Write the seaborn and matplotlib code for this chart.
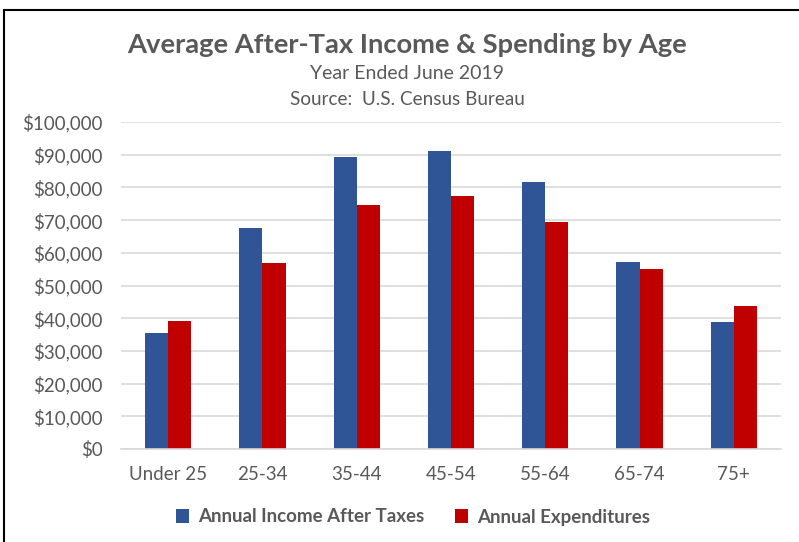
import matplotlib
matplotlib.use("Agg")
import matplotlib.pyplot as plt
import seaborn as sns
import pandas as pd
from matplotlib.ticker import FuncFormatter
from matplotlib.patches import Rectangle

categories = ["Under 25", "25-34", "35-44", "45-54", "55-64", "65-74", "75+"]
income = [35400, 67700, 89300, 91200, 81700, 57300, 38700]
expenditures = [39200, 57000, 74700, 77300, 69300, 54900, 43600]
series_names = ["Annual Income After Taxes", "Annual Expenditures"]

df = pd.DataFrame({
    "Age": categories * 2,
    "Value": income + expenditures,
    "Series": [series_names[0]] * len(categories) + [series_names[1]] * len(categories),
})

sns.set_theme(style="white")
plt.rcParams['font.family'] = ['Lato', 'DejaVu Sans']
gray = "#595959"

fig = plt.figure(figsize=(7.99, 5.42), dpi=100)
ax = fig.add_axes([121/799, 1 - 449/542, (781-121)/799, (449-122)/542])

sns.barplot(data=df, x="Age", y="Value", hue="Series", order=categories,
            hue_order=series_names, palette=["#2F5597", "#C00000"],
            width=0.49, gap=0, ax=ax, legend=True, saturation=1, linewidth=0)

ax.set_ylim(0, 100000)
ax.set_yticks(range(0, 100001, 10000))
ax.yaxis.set_major_formatter(FuncFormatter(lambda v, p: f"${v:,.0f}"))
ax.grid(axis="y", color="#D9D9D9", linewidth=1.2)
ax.set_axisbelow(True)
ax.set_xlabel("")
ax.set_ylabel("")
for s in ["top", "right", "left"]:
    ax.spines[s].set_visible(False)
ax.spines["bottom"].set_color("#D9D9D9")
ax.spines["bottom"].set_linewidth(1.2)
ax.tick_params(axis="both", length=0, labelsize=13.5, colors=gray)
ax.tick_params(axis="y", pad=13)
ax.tick_params(axis="x", pad=12)

leg = ax.legend(loc="center", bbox_to_anchor=((413-121)/660, (449-517)/327), ncol=2,
                frameon=False, fontsize=13.5, handlelength=0.7, handleheight=0.7,
                handletextpad=0.5, columnspacing=1.6)
for t in leg.get_texts():
    t.set_color(gray)
    t.set_fontweight("bold")

fig.text(407/799, 1 - 45/542, "Average After-Tax Income & Spending by Age",
         ha="center", va="center", fontsize=19.7, fontweight="bold", color=gray)
fig.text(407/799, 1 - 73/542, "Year Ended June 2019",
         ha="center", va="center", fontsize=14, color=gray)
fig.text(407/799, 1 - 100/542, "Source:  U.S. Census Bureau",
         ha="center", va="center", fontsize=13.6, color=gray)

fig.patches.append(Rectangle((4/799, -0.05), 1.2, 1 - 10/542 + 0.05,
                             transform=fig.transFigure, fill=False,
                             edgecolor="black", linewidth=1.5))

fig.savefig("out.png", dpi=100, facecolor="white")
